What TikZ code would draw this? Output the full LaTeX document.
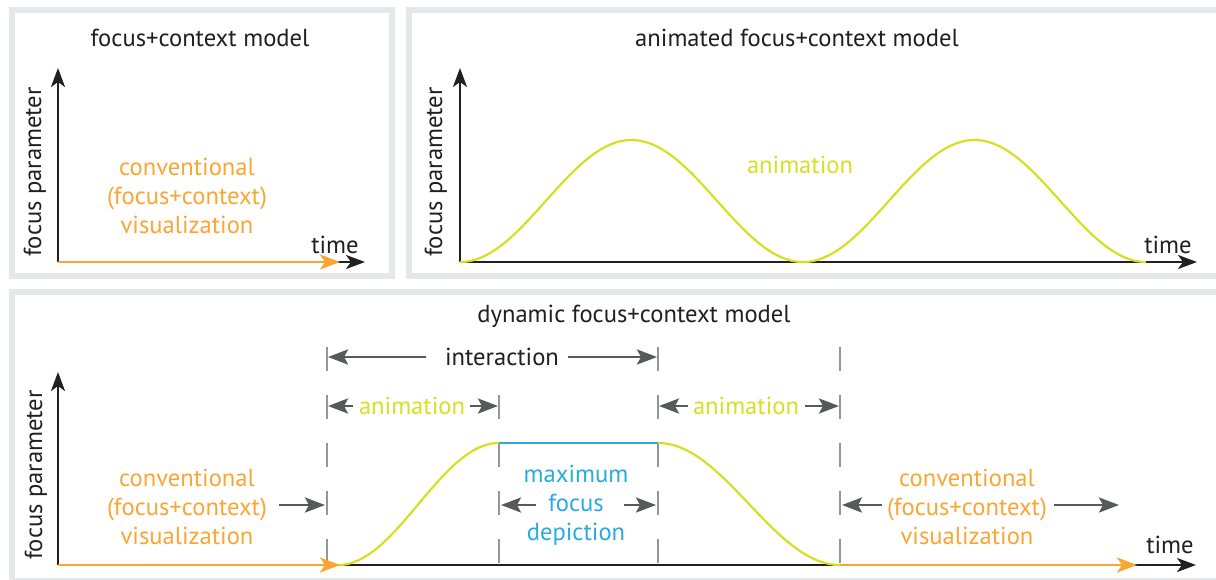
\documentclass[tikz,border=0pt]{standalone}
\usepackage{fontspec}
\setmainfont{PT Sans}
\usetikzlibrary{arrows.meta}
\definecolor{fr}{HTML}{E6E7E8}
\definecolor{orng}{HTML}{FAA634}
\definecolor{lime}{HTML}{D7DF23}
\definecolor{sky}{HTML}{29ABE2}
\definecolor{dgray}{HTML}{58595B}
\definecolor{lgray}{HTML}{939598}
\definecolor{ink}{HTML}{231F20}
\begin{document}
\begin{tikzpicture}[x=0.5pt,y=-0.5pt,
  txt/.style={font=\fontsize{12.3}{14.5}\selectfont, inner sep=0pt, align=center, text=ink},
  frame/.style={draw=fr, line width=3pt},
  axis/.style={ink, line width=1.1pt, -{Stealth[length=9.5pt,width=7pt,inset=2.5pt]}},
  oarrow/.style={orng, line width=1.3pt, -{Stealth[length=10pt,width=7.5pt,inset=2.5pt]}},
  dim/.style={dgray, line width=1.3pt, -{Stealth[length=10pt,width=7.5pt,inset=2pt]}},
  guide/.style={lgray, line width=1.2pt, dash pattern=on 12pt off 12pt},
  curve/.style={lime, line width=1.1pt},
  flat/.style={sky, line width=1.1pt},
]
\useasboundingbox (0,0) rectangle (1216,579);
\fill[white] (0,0) rectangle (1216,579);
\draw[frame] (11.5,10) rectangle (391.5,275.5);
\draw[frame] (409,10) rectangle (1219,275.5);
\draw[frame] (11.5,292) rectangle (1219,581);

% ---------- panel 1
\coordinate (o1) at (58,262);
\coordinate (y1) at (58,68);
\coordinate (x1) at (365,262);
\coordinate (c1) at (340,262);
\draw[axis] (o1) -- (y1);
\draw[axis] (o1) -- (x1);
\draw[oarrow] (o1) -- (c1);
\node[txt] (t1) at (200,38) {focus+context model};
\node[txt, text=orng] (cv1) at (187,196) {conventional\\(focus+context)\\visualization};
\node[txt] (time1) at (335,245) {time};
\node[txt, rotate=90] (fp1) at (35,172) {focus parameter};

% ---------- panel 2
\coordinate (o2) at (460,262);
\coordinate (y2) at (460,68);
\coordinate (x2) at (1197,262);
\draw[axis] (o2) -- (y2);
\draw[axis] (o2) -- (x2);
\draw[curve] plot[domain=0:686, samples=200] ({460+\x}, {262-61*(1-cos(\x/343*360))});
\node[txt] (t2) at (797,38) {animated focus+context model};
\node[txt, text=lime] (an2) at (800,165) {animation};
\node[txt] (time2) at (1168,245) {time};
\node[txt, rotate=90] (fp2) at (436,172) {focus parameter};

% ---------- panel 3
\coordinate (o3) at (58,565);
\coordinate (y3) at (58,372);
\coordinate (x3) at (1196,565);
\coordinate (c3a) at (340,565);
\coordinate (s3b) at (840,565);
\coordinate (c3b) at (1137,565);
% guides
\coordinate (gA) at (327,347); \coordinate (gAb) at (327,565);
\coordinate (gB) at (499,395); \coordinate (gBb) at (499,565);
\coordinate (gC) at (658,347); \coordinate (gCb) at (658,565);
\coordinate (gD) at (840,347); \coordinate (gDb) at (840,565);
\draw[guide] (gA) -- (gAb);
\draw[guide] (gB) -- (gBb);
\draw[guide] (gC) -- (gCb);
\draw[guide] (gD) -- (gDb);

\draw[axis] (o3) -- (y3);
\draw[axis] (o3) -- (x3);
\draw[curve] plot[domain=0:161, samples=100] ({338+\x}, {565-61*(1-cos(\x/161*180))});
\draw[flat] (499,443) -- (658,443);
\draw[curve] plot[domain=0:182, samples=100] ({658+\x}, {443+61*(1-cos(\x/182*180))});
\draw[oarrow] (o3) -- (c3a);
\draw[oarrow] (s3b) -- (c3b);

\node[txt] (t3) at (634,316) {dynamic focus+context model};
\node[txt] (time3) at (1170,545) {time};
\node[txt, rotate=90] (fp3) at (36,475) {focus parameter};

% interaction
\node[txt] (inter) at (502,357) {interaction};
\coordinate (iL0) at (426,357); \coordinate (iL1) at (328,357);
\coordinate (iR0) at (568,357); \coordinate (iR1) at (657,357);
\draw[dim] (iL0) -- (iL1);
\draw[dim] (iR0) -- (iR1);

% animation 1
\node[txt, text=lime] (an3a) at (412,406) {animation};
\coordinate (aL0) at (353,406); \coordinate (aL1) at (328,406);
\coordinate (aR0) at (470,406); \coordinate (aR1) at (498,406);
\draw[dim] (aL0) -- (aL1);
\draw[dim] (aR0) -- (aR1);

% animation 2
\node[txt, text=lime] (an3b) at (746,406) {animation};
\coordinate (bL0) at (688,406); \coordinate (bL1) at (659,406);
\coordinate (bR0) at (805,406); \coordinate (bR1) at (839,406);
\draw[dim] (bL0) -- (bL1);
\draw[dim] (bR0) -- (bR1);

% left conventional
\node[txt, text=orng] (cv3a) at (187,507) {conventional\\(focus+context)\\visualization};
\coordinate (cL0) at (279,505); \coordinate (cL1) at (325,505);
\draw[dim] (cL0) -- (cL1);

% max focus
\node[txt, text=sky] (mf) at (576,505) {maximum\\focus\\depiction};
\coordinate (mL0) at (536,505); \coordinate (mL1) at (501,505);
\coordinate (mR0) at (624,505); \coordinate (mR1) at (656,505);
\draw[dim] (mL0) -- (mL1);
\draw[dim] (mR0) -- (mR1);

% right conventional
\node[txt, text=orng] (cv3b) at (967,507) {conventional\\(focus+context)\\visualization};
\coordinate (dL0) at (882,505); \coordinate (dL1) at (842,505);
\coordinate (dR0) at (1054,505); \coordinate (dR1) at (1119,505);
\draw[dim] (dL0) -- (dL1);
\draw[dim] (dR0) -- (dR1);
\end{tikzpicture}
\end{document}
